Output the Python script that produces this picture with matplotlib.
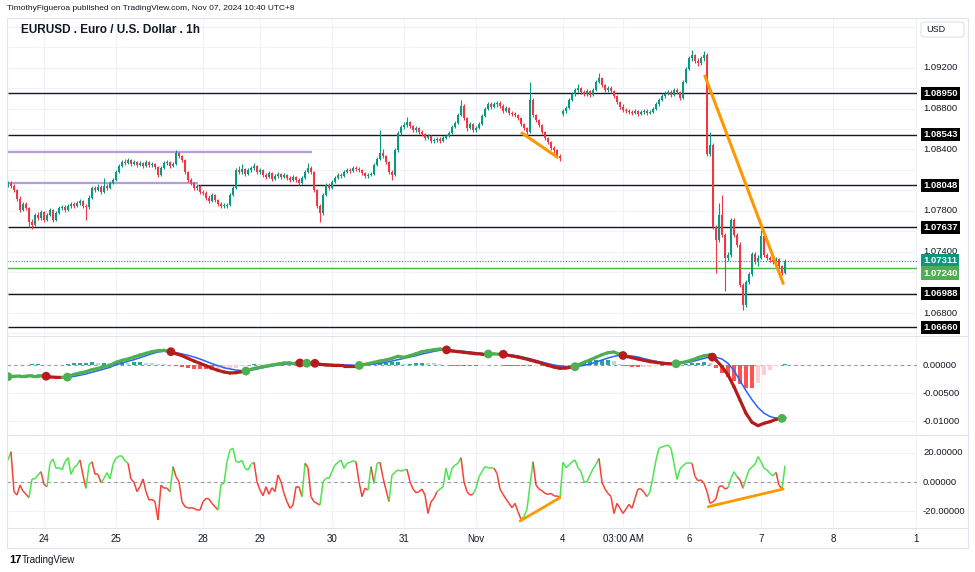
import numpy as np
import matplotlib
matplotlib.use("Agg")
import matplotlib.pyplot as plt
from matplotlib import font_manager
from matplotlib.collections import LineCollection
from matplotlib.lines import Line2D
from matplotlib.patches import FancyBboxPatch
from matplotlib.transforms import blended_transform_factory

installed = {f.name for f in font_manager.fontManager.ttflist}
narrow = 'Liberation Sans Narrow' if 'Liberation Sans Narrow' in installed else 'Liberation Sans'
plt.rcParams['font.family'] = [narrow, 'DejaVu Sans']

# ---- EURUSD 1h candles, prices in pips above 1.0000 (bar 0 = Oct 23 12:00, UTC+8) ----
open_pips = [
    805, 807, 804, 800, 792, 781, 787, 783, 769, 766, 776, 773, 779, 771, 776, 781, 771, 778, 783, 784,
    781, 785, 787, 785, 788, 790, 785, 784, 793, 802, 800, 803, 798, 804, 802, 807, 810, 818, 824, 828,
    827, 830, 826, 828, 825, 827, 824, 828, 825, 826, 823, 815, 822, 827, 828, 824, 826, 837, 834, 830,
    818, 810, 807, 802, 804, 798, 797, 793, 790, 795, 791, 787, 785, 785, 786, 795, 802, 820, 818, 821,
    816, 820, 822, 824, 818, 820, 815, 813, 817, 811, 814, 816, 813, 815, 812, 810, 813, 810, 807, 812,
    818, 822, 818, 800, 785, 778, 795, 805, 802, 808, 812, 815, 814, 818, 820, 819, 822, 821, 820, 817,
    814, 815, 816, 825, 831, 837, 834, 828, 818, 815, 839, 856, 862, 864, 867, 863, 859, 861, 857, 855,
    851, 853, 848, 849, 850, 848, 851, 853, 856, 862, 866, 874, 883, 871, 861, 865, 859, 861, 865, 873,
    880, 884, 882, 884, 885, 883, 878, 881, 876, 875, 874, 871, 865, 861, 857, 888, 874, 869, 864, 857,
    851, 847, 841, 839, 834, 875, 878, 881, 888, 894, 898, 900, 896, 894, 897, 893, 898, 906, 910, 903,
    898, 900, 897, 892, 886, 882, 879, 878, 877, 876, 878, 875, 877, 878, 876, 877, 880, 884, 888, 892,
    894, 896, 893, 898, 896, 890, 906, 919, 929, 932, 927, 925, 929, 932, 836, 844, 764, 751, 776, 756,
    734, 737, 771, 756, 747, 707, 688, 710, 718, 738, 730, 734, 755, 737, 734, 732, 730, 733, 726, 719]
close_pips = [
    807, 804, 800, 792, 781, 787, 783, 769, 766, 776, 773, 779, 771, 776, 781, 771, 778, 783, 784, 781,
    785, 787, 785, 788, 790, 785, 784, 793, 802, 800, 803, 798, 804, 802, 807, 810, 818, 824, 828, 827,
    830, 826, 828, 825, 827, 824, 828, 825, 826, 823, 815, 822, 827, 828, 824, 826, 837, 834, 830, 818,
    810, 807, 802, 804, 798, 797, 793, 790, 795, 791, 787, 785, 785, 786, 795, 802, 820, 818, 821, 816,
    820, 822, 824, 818, 820, 815, 813, 817, 811, 814, 816, 813, 815, 812, 810, 813, 810, 807, 812, 818,
    822, 818, 800, 785, 778, 795, 805, 802, 808, 812, 815, 814, 818, 820, 819, 822, 821, 820, 817, 814,
    815, 816, 825, 831, 837, 834, 828, 818, 815, 839, 856, 862, 864, 867, 863, 859, 861, 857, 855, 851,
    853, 848, 849, 850, 848, 851, 853, 856, 862, 866, 874, 883, 871, 861, 865, 859, 861, 865, 873, 880,
    884, 882, 884, 885, 883, 878, 881, 876, 875, 874, 871, 865, 861, 857, 888, 874, 869, 864, 857, 851,
    847, 841, 839, 834, 832, 878, 881, 888, 894, 898, 900, 896, 894, 897, 893, 898, 906, 910, 903, 898,
    900, 897, 892, 886, 882, 879, 878, 877, 876, 878, 875, 877, 878, 876, 877, 880, 884, 888, 892, 894,
    896, 893, 898, 896, 890, 906, 919, 929, 932, 927, 925, 929, 932, 836, 844, 764, 751, 776, 756, 734,
    737, 771, 756, 747, 707, 688, 710, 718, 738, 730, 734, 755, 737, 734, 732, 730, 733, 726, 719, 731]
high_pips = [
    809, 809, 806, 801, 794, 789, 789, 784, 772, 778, 779, 781, 780, 778, 783, 782, 780, 785, 786, 786,
    787, 789, 789, 790, 792, 791, 787, 795, 804, 804, 806, 805, 812, 806, 809, 812, 820, 826, 830, 831,
    832, 831, 830, 829, 829, 828, 830, 829, 828, 827, 824, 824, 829, 830, 829, 828, 839, 838, 835, 831,
    819, 812, 808, 806, 805, 800, 799, 795, 797, 796, 792, 789, 788, 788, 797, 804, 822, 824, 826, 822,
    822, 824, 827, 825, 822, 821, 817, 819, 818, 816, 818, 817, 817, 816, 814, 815, 814, 812, 814, 820,
    827, 824, 819, 801, 787, 797, 807, 807, 810, 814, 817, 817, 820, 822, 822, 824, 824, 823, 821, 818,
    817, 818, 827, 833, 859, 840, 835, 829, 820, 841, 858, 864, 867, 872, 868, 864, 863, 862, 859, 856,
    855, 854, 851, 852, 852, 853, 855, 858, 864, 868, 876, 888, 884, 872, 867, 866, 863, 867, 875, 882,
    886, 886, 886, 887, 887, 884, 883, 882, 878, 877, 875, 872, 866, 862, 906, 890, 875, 870, 865, 858,
    852, 848, 843, 840, 836, 880, 883, 890, 896, 900, 904, 901, 898, 899, 898, 900, 908, 915, 911, 904,
    902, 902, 898, 893, 887, 884, 881, 880, 879, 880, 879, 879, 880, 880, 879, 882, 886, 890, 894, 897,
    898, 898, 900, 900, 897, 908, 921, 931, 937, 933, 929, 931, 936, 934, 857, 846, 766, 788, 795, 758,
    740, 773, 773, 758, 749, 709, 712, 720, 740, 740, 737, 761, 756, 739, 736, 734, 735, 734, 727, 733]
low_pips = [
    803, 802, 798, 790, 779, 780, 781, 764, 762, 765, 771, 771, 769, 770, 775, 769, 770, 777, 781, 779,
    780, 783, 783, 784, 786, 783, 771, 782, 792, 798, 799, 796, 797, 800, 801, 806, 809, 817, 823, 825,
    826, 824, 825, 823, 824, 822, 823, 823, 823, 821, 813, 814, 821, 825, 822, 823, 825, 832, 828, 816,
    808, 805, 800, 800, 796, 795, 791, 788, 789, 789, 785, 783, 783, 783, 785, 794, 801, 816, 816, 814,
    815, 818, 820, 816, 816, 813, 811, 812, 809, 810, 812, 811, 812, 810, 808, 809, 808, 805, 806, 811,
    817, 816, 798, 783, 769, 776, 794, 800, 801, 807, 811, 812, 813, 817, 817, 818, 819, 818, 815, 812,
    812, 814, 815, 824, 830, 832, 826, 816, 810, 814, 838, 854, 860, 862, 861, 857, 857, 855, 853, 849,
    850, 846, 846, 847, 846, 847, 850, 852, 855, 861, 865, 873, 869, 858, 860, 857, 857, 860, 864, 872,
    879, 880, 881, 882, 881, 876, 877, 874, 873, 872, 869, 863, 859, 855, 856, 872, 867, 862, 855, 849,
    845, 839, 837, 832, 829, 873, 876, 880, 887, 892, 896, 894, 892, 892, 891, 892, 897, 905, 901, 896,
    896, 895, 890, 884, 880, 877, 876, 875, 874, 875, 873, 874, 875, 874, 875, 876, 879, 883, 887, 890,
    893, 891, 892, 894, 888, 889, 905, 918, 927, 925, 922, 923, 927, 834, 834, 762, 719, 749, 754, 702,
    731, 735, 754, 745, 705, 683, 686, 708, 716, 728, 726, 733, 735, 732, 730, 728, 728, 724, 717, 718]

# horizontal levels drawn on the chart
level_prices = [1.08950, 1.08543, 1.08048, 1.07637, 1.06988, 1.06660]
level_start = [0, 0, 63.3, 0, 0, 0]
purple_prices = [1.08372, 1.08069]
purple_end = [101.3, 63.3]
last_price = 1.07311
green_level = 1.07240
green_tag_at = 1.07191      # the axis tag is pushed down so it does not cover the last-price tag
price_ticks = [1.092, 1.088, 1.084, 1.078, 1.074, 1.068]
price_grid = [1.066, 1.068, 1.070, 1.072, 1.074, 1.076, 1.078, 1.080, 1.082, 1.084,
              1.086, 1.088, 1.090, 1.092, 1.094, 1.096]

# orange trend lines: (bar0, value0, bar1, value1)
price_trends = [(232.3, 1.09119, 258.4, 1.07090), (171.3, 1.08561, 183.0, 1.08326)]
osc_trends = [(170.7, -26.7, 184.0, -10.7), (233.4, -16.9, 258.4, -4.8)]

# ---- MACD pane (values in 1e-5), sampled every 2 bars ----
macd_bars = list(range(0, 260, 2)) + [259]
macd_line = [
    -208, -202, -196, -196, -190, -190, -196, -214, -220, -222,
    -208, -167, -143, -119, -83, -60, -30, -6, 48, 83,
    107, 143, 179, 208, 238, 256, 262, 238, 202, 167,
    119, 71, 30, -12, -60, -95, -125, -143, -137, -119,
    -95, -60, -42, -24, 0, 18, 36, 42, 42, 36,
    32, 30, 12, 0, -6, -6, -12, -12, -12, 0,
    24, 48, 71, 89, 119, 155,
    137, 167, 202, 238, 256, 274, 286, 274, 250, 238,
    226, 214, 202, 196, 196, 199, 192, 180, 162, 142,
    117, 89, 60, 30, -6, -36, -60, -54, -36, 0,
    48, 89, 137, 184, 220, 232, 190, 155, 131, 107,
    83, 60, 48, 30, 24, 18, 36, 60, 89, 131,
    167, 179, 89, -30, -178, -387, -625, -863, -1023, -1083,
    -1041, -1012, -970, -952, -940]
signal_line = [
    -208, -206, -204, -203, -202, -202, -202, -206, -212, -218,
    -220, -204, -182, -160, -131, -101, -71, -42, 6, 36,
    65, 95, 131, 167, 202, 232, 244, 238, 222, 198,
    173, 143, 107, 65, 24, -12, -48, -71, -89, -101,
    -101, -83, -60, -36, -18, 0, 12, 24, 30, 36,
    32, 30, 24, 18, 12, 6, 0, 0, -6, -6,
    6, 18, 30, 48, 71, 95,
    119, 143, 167, 196, 220, 244, 262, 268, 262, 256,
    244, 232, 220, 208, 196, 194, 194, 190, 178, 161,
    137, 113, 83, 54, 24, 0, -18, -30, -30, -24,
    -6, 18, 54, 89, 125, 155, 173, 170, 161, 143,
    113, 89, 65, 48, 36, 24, 30, 42, 60, 89,
    119, 143, 137, 107, 30, -100, -280, -460, -620, -760,
    -860, -920, -950, -955, -956]
cross_bars = [0, 12.7, 19.8, 54.3, 79.3, 97.3, 99.6, 102.3, 117.1,
              146.2, 160.1, 165.1, 189, 205, 222.7, 234.8, 258]
cross_vals = [-208, -200, -216, 238, -108, 36, 32, 30, -8,
              270, 196, 193, -30, 170, 22, 140, -953]
cross_kind = ['g', 'r', 'g', 'r', 'g', 'r', 'g', 'r', 'g',
              'r', 'g', 'r', 'g', 'r', 'g', 'r', 'g']

# ---- oscillator pane, one value per bar ----
osc = [
    15, 20.8, -6.6, -8.9, -2.1, -6.2, -8.4, -10.7, 2.1, 2.3,
    4.8, 7.1, -1.6, -3.2, 12.8, 15.8, 9.4, 9.8, 8.4, 13.9,
    16.7, 5.3, 9.8, 11.6, 15.1, 4.8, -4.3, 11.6, 13.9, 5.3,
    5.3, -0.5, 2.5, 6.4, 2.1, 12.1, 16.2, 17.8, 17.8, 14.4,
    12.8, 2.1, -0.2, -6.6, -3.2, 2.1, -6.6, -12.3, -11.9, -13.5,
    -26, -2.1, -4.3, -4.3, -6.6, 10.5, 3.7, 0.2, -13.5, -16.9,
    -17.6, -17.6, -18, -19.2, -19.2, -13.5, -11.2, -11.6, -14.6, -16.9,
    -19.2, -1.6, -0.9, 13.9, 21.9, 23.1, 13.9, 13.5, 14.8, 9.4,
    8.2, 12.1, 13.5, 0.2, -5.5, -9.4, -3.2, -8.4, -3.9, -6.6,
    4.8, 0.2, -7.8, -13.5, -18, -15.8, -3.2, -3.2, -10, 12.8,
    9.8, -10, -13.5, -14.6, -15.8, 0.2, 2.5, 2.5, 7.1, 11.6,
    13.5, 15.1, 9.4, 12.8, 13.5, 14.4, 13.9, 0.2, -10, -4.3,
    -5.5, 10.5, -0.9, 12.8, 13.5, 3.0, -5.5, -13.5, 4.8, 6.6,
    8.2, 7.5, 8.2, 8.7, 0.2, -4.8, -7.3, -6.6, -4.8, -8.9,
    -21.5, -13.5, -11.2, -6.6, -4.8, -3.4, 9.4, 1.4, 9.4, 11.6,
    12.8, 16.7, 0.2, -6.6, -8.9, -8.4, -4.3, 3.7, 7.1, 10.5,
    9.8, 9.8, 9.4, 5.9, -4.8, -8.4, -11.6, -14.6, -17.6, -14.6,
    -20.3, -25.6, -23.7, -18.5, -2.1, 13.9, -2.1, -4.8, -5.9, -7.8,
    -8.4, -7.8, -9.4, -9.4, -10.7, 13.5, 9.8, 11.6, 13.9, 15.1,
    9.8, 7.1, 0.2, 0.2, 4.8, 8.9, 12.1, 16.2, -0.2, -4.8,
    -7.8, -10, -21.5, -14.6, -18, -21.5, -18.5, -15.3, -18, -11.2,
    -4.8, -4.8, -7.1, -10, -6.6, 3.7, 15.1, 23.1, 24, 24.7,
    25.3, 23.1, 12.8, 1.8, 8.9, 11.2, 12.8, 12.8, 12.8, 3.7,
    0.9, 1.4, -0.9, -6.6, -14.6, -13.5, -11.6, -3.2, -2.5, -4.8,
    -3.9, 2.5, 7.1, 3.7, 1.4, -4.3, 2.5, 8.2, 10.3, 12.1,
    17.4, 13.9, 9.4, 8.2, 5.9, 4.3, 6.6, -2.1, -4.8, 11.2]
# colour of the oscillator line, as runs of (colour, number of points)
osc_runs = [('g', 2), ('r', 6), ('g', 4), ('r', 2), ('g', 11), ('r', 2), ('g', 2), ('r', 3),
            ('g', 9), ('r', 14), ('g', 1), ('r', 15), ('g', 12), ('r', 16), ('g', 1), ('r', 5),
            ('g', 12), ('r', 4), ('g', 1), ('r', 1), ('g', 2), ('r', 3), ('g', 6), ('r', 10),
            ('g', 8), ('r', 4), ('g', 7), ('r', 9), ('g', 4), ('r', 9), ('g', 13), ('r', 16),
            ('g', 15), ('r', 12), ('g', 3), ('r', 2), ('g', 11), ('r', 2), ('g', 1)]

# time axis
tick_pos = [12, 36, 65, 84, 108, 132, 156, 185, 205, 227, 251, 275, 302.8]
tick_labels = ['24', '25', '28', '29', '30', '31', 'Nov', '4', '03:00 AM', '6', '7', '8', '1']

# ---------------------------------------------------------------------------
W, H = 975, 572
fig = plt.figure(figsize=(W / 100, H / 100), dpi=100)
fig.patch.set_facecolor('white')
TXT = '#131722'
GRID = '#f0f3fa'
FRAME = '#e0e3eb'


def pane(top, bottom):
    return fig.add_axes([7 / W, 1 - bottom / H, 910 / W, (bottom - top) / H])


def fig_line(x0, y0, x1, y1, **kw):
    fig.add_artist(Line2D([x0 / W, x1 / W], [1 - y0 / H, 1 - y1 / H], transform=fig.transFigure, **kw))


ax_p = pane(18, 335)
ax_m = pane(336, 434)
ax_o = pane(435, 527)

for ax in (ax_p, ax_m, ax_o):
    ax.set_xlim(-0.33, 303)
    for s in ax.spines.values():
        s.set_visible(False)
    ax.set_xticks(tick_pos)
    ax.tick_params(length=0, labelbottom=False, labelleft=False)
    ax.grid(True, color=GRID, lw=0.8)
    ax.set_axisbelow(True)

# ---- price pane ----
ax_p.set_ylim(1.06585, 1.09686)
ax_p.set_yticks(price_grid)
bars = np.arange(len(close_pips))
o, h, l, c = [1 + np.asarray(a) / 1e4 for a in (open_pips, high_pips, low_pips, close_pips)]
col = np.where(c >= o, '#089981', '#f23645')
ax_p.vlines(bars, l, h, colors=col, lw=0.8, zorder=3)
ax_p.bar(bars, np.maximum(np.abs(c - o), 0.00005), bottom=np.minimum(o, c), width=0.72,
         color=col, linewidth=0, zorder=4)

for p, x0 in zip(level_prices, level_start):
    ax_p.hlines(p, x0, 303, color='#131722', lw=1.0, zorder=2)
for p, x1 in zip(purple_prices, purple_end):
    ax_p.hlines(p, -0.33, x1, color='#b39ddb', lw=1.6, zorder=2)
ax_p.axhline(last_price, color='#089981', lw=0.8, ls=(0, (1, 1.5)), zorder=2)
ax_p.axhline(green_level, color='#4caf50', lw=1.0, zorder=2)
for x0, y0, x1, y1 in price_trends:
    ax_p.plot([x0, x1], [y0, y1], color='#ff9800', lw=2.2, solid_capstyle='round', zorder=5)

tr_p = blended_transform_factory(fig.transFigure, ax_p.transData)
for p in price_ticks:
    ax_p.text(923 / W, p, f'{p:.5f}', transform=tr_p, fontsize=6.8, color=TXT, va='center', ha='left')


def tag(y, text, fc):
    ax_p.text(923 / W, y, text, transform=tr_p, fontsize=6.8, color='white', weight='bold',
              va='center', ha='left', bbox=dict(boxstyle='square,pad=0.22', fc=fc, ec='none'))


for p in level_prices:
    tag(p, f'{p:.5f}', 'black')
tag(last_price, f'{last_price:.5f}', '#089981')
tag(green_tag_at, f'{green_level:.5f}', '#4caf50')

# ---- MACD pane ----
ax_m.set_ylim(-0.01232, 0.00518)
ax_m.set_yticks([-0.01, -0.005, 0.0])
mb = np.asarray(macd_bars)
mv = np.asarray(macd_line) * 1e-5
sv = np.asarray(signal_line) * 1e-5
hv = mv - sv
hcol = []
for k, v in enumerate(hv):
    prev = hv[k - 1] if k else v
    if v >= 0:
        hcol.append('#26a69a' if v >= prev else '#b2dfdb')
    else:
        hcol.append('#ff5252' if v <= prev else '#ffcdd2')
ax_m.bar(mb, hv, width=1.4, color=hcol, linewidth=0, zorder=2)
ax_m.axhline(0, color='#9598a1', lw=0.8, ls=(0, (3, 3)), zorder=1)
ax_m.plot(mb, sv, color='#2962ff', lw=1.1, zorder=3)
segs = [[(mb[k], mv[k]), (mb[k + 1], mv[k + 1])] for k in range(len(mb) - 1)]
scol = ['#4caf50' if mv[k] + mv[k + 1] >= sv[k] + sv[k + 1] else '#b71c1c' for k in range(len(mb) - 1)]
ax_m.add_collection(LineCollection(segs, colors=scol, linewidths=2.3, capstyle='round', zorder=4))
ax_m.scatter(cross_bars, np.asarray(cross_vals) * 1e-5, s=40, zorder=6, linewidths=0,
             c=['#4caf50' if k == 'g' else '#b71c1c' for k in cross_kind])
tr_m = blended_transform_factory(fig.transFigure, ax_m.transData)
for v, t in [(0.0, '0.00000'), (-0.005, '-0.00500'), (-0.01, '-0.01000')]:
    ax_m.text(923 / W, v, t, transform=tr_m, fontsize=6.8, color=TXT, va='center', ha='left')

# ---- oscillator pane ----
ax_o.set_ylim(-30.8, 32.2)
ax_o.set_yticks([-20, 0, 20])
ax_o.axhline(0, color='#9598a1', lw=0.8, ls=(0, (3, 3)), zorder=1)
ocol = ''.join(k * cnt for k, cnt in osc_runs)
osegs = [[(k - 1, osc[k - 1]), (k, osc[k])] for k in range(1, len(osc))]
ax_o.add_collection(LineCollection(osegs, linewidths=1.1, zorder=3,
                                   colors=['#4ee44e' if ocol[k] == 'g' else '#f44336'
                                           for k in range(1, len(osc))]))
for x0, y0, x1, y1 in osc_trends:
    ax_o.plot([x0, x1], [y0, y1], color='#ff9800', lw=2.0, solid_capstyle='round', zorder=5)
tr_o = blended_transform_factory(fig.transFigure, ax_o.transData)
for v, t in [(20, '20.00000'), (0, '0.00000'), (-20, '-20.00000')]:
    ax_o.text(923 / W, v, t, transform=tr_o, fontsize=6.8, color=TXT, va='center', ha='left')

ax_o.set_xticks(tick_pos, tick_labels)
ax_o.tick_params(labelbottom=True, pad=5, labelsize=7, labelcolor=TXT)

# ---- frame, separators and header ----
for y in (18, 335.5, 434.5, 527.5, 548):
    fig_line(7, y, 968, y, color=FRAME, lw=0.8)
fig_line(7, 18, 7, 548, color=FRAME, lw=0.8)
fig_line(968, 18, 968, 548, color=FRAME, lw=0.8)

fig.add_artist(FancyBboxPatch((921 / W, 1 - 37 / H), 43 / W, 15 / H, transform=fig.transFigure,
                              boxstyle='round,pad=0,rounding_size=0.004', fc='white', ec=FRAME, lw=0.8))
fig.text(926 / W, 1 - 30 / H, 'USD', fontsize=6.5, color=TXT, va='center')

fig.text(7 / W, 1 - 9 / H, 'TimothyFigueroa published on TradingView.com, Nov 07, 2024 10:40 UTC+8',
         fontsize=6.0, color=TXT, va='center')
fig.text(21 / W, 1 - 30 / H, 'EURUSD . Euro / U.S. Dollar . 1h', fontsize=8.5, weight='bold',
         color=TXT, va='center')
fig.text(9 / W, 1 - 560 / H, '17', fontsize=8, weight='heavy', color='black', va='center')
fig.text(22 / W, 1 - 560 / H, 'TradingView', fontsize=7, color=TXT, va='center')

fig.savefig('out.png', dpi=100, facecolor='white')
